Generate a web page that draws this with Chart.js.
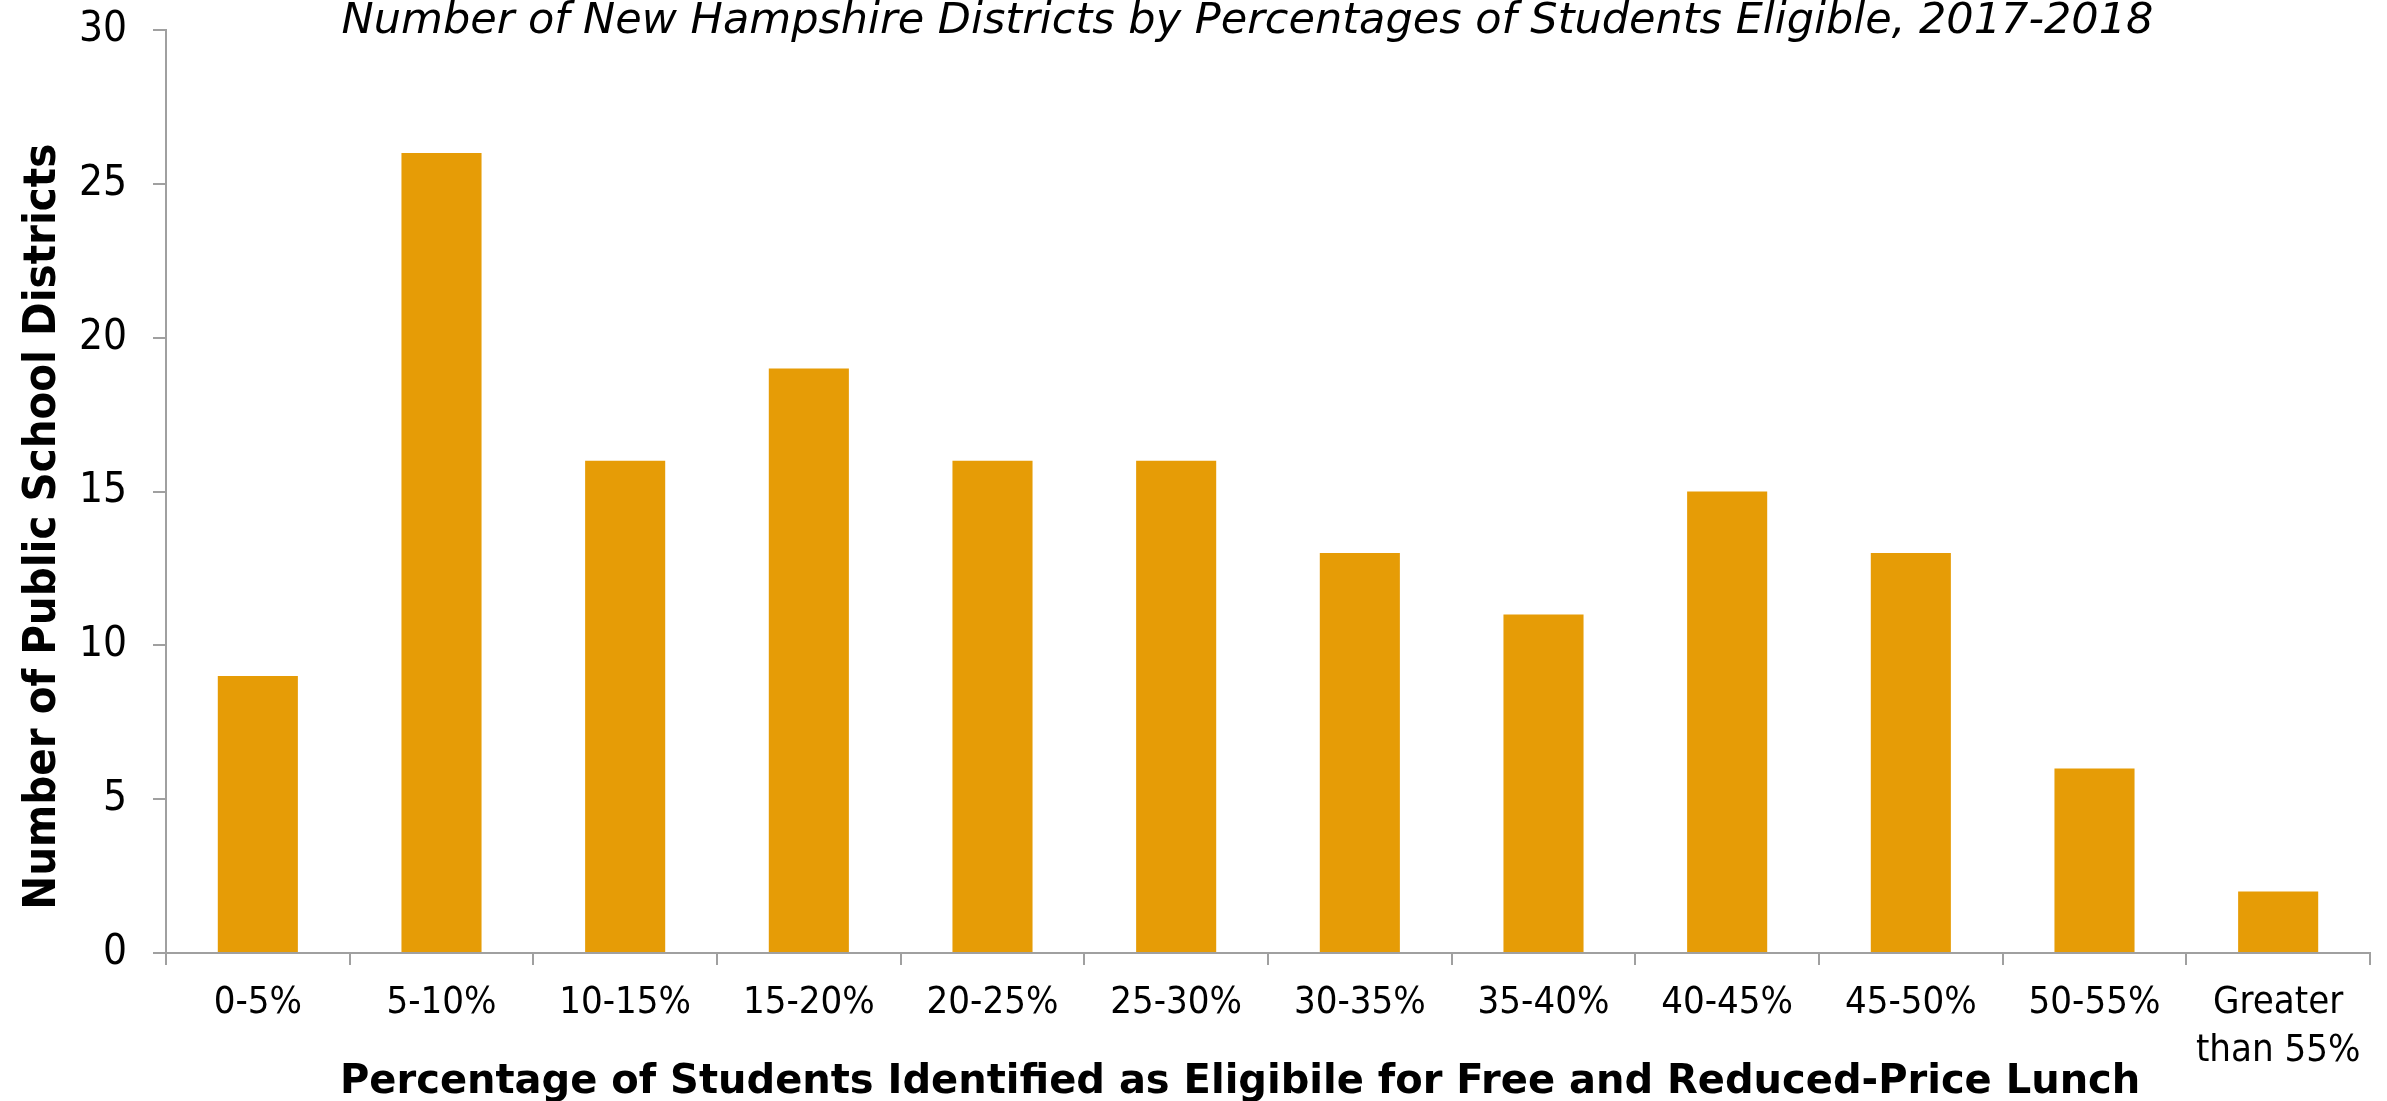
<!DOCTYPE html>
<html>
<head>
<meta charset="utf-8">
<script src="https://cdn.jsdelivr.net/npm/chart.js@4.4.1/dist/chart.umd.min.js"></script>
<style>
  html, body { margin: 0; padding: 0; background: #fff; }
  #chart { display: block; }
</style>
</head>
<body>
<canvas id="chart" width="2387" height="1101"></canvas>
<script>
const categories = ["0-5%", "5-10%", "10-15%", "15-20%", "20-25%", "25-30%", "30-35%", "35-40%", "40-45%", "45-50%", "50-55%", ["Greater", "than 55%"]];
const districts = [9, 26, 16, 19, 16, 16, 13, 11, 15, 13, 6, 2];
const yTicks = [0, 5, 10, 15, 20, 25, 30];

const FONT = "'DejaVu Sans Condensed', 'DejaVu Sans', sans-serif";
const WIDE = "'DejaVu Sans', sans-serif";
const AXIS_GREY = "#a0a0a0";

// the original centres its titles a bit off the plot centre; trailing spaces nudge them
const pad = n => " ".repeat(n);

const ctx = document.getElementById("chart").getContext("2d");

new Chart(ctx, {
  type: "bar",
  data: {
    labels: categories,
    datasets: [{
      data: districts,
      backgroundColor: "#e69c06",
      borderWidth: 0,
      categoryPercentage: 1,
      barPercentage: 0.436
    }]
  },
  options: {
    responsive: false,
    animation: false,
    devicePixelRatio: 1,
    layout: { padding: { left: 0, right: 17, top: 0, bottom: 0 } },
    plugins: {
      legend: { display: false },
      tooltip: { enabled: false },
      title: {
        display: true,
        fullSize: false,
        text: "Number of New Hampshire Districts by Percentages of Students Eligible, 2017-2018" + pad(3),
        color: "#000",
        font: { family: WIDE, size: 43, style: "italic", weight: "normal", lineHeight: 1 },
        padding: { top: 0, bottom: -13 }
      }
    },
    scales: {
      x: {
        afterFit: scale => { scale.height = 148; },
        grid: {
          offset: true,
          drawOnChartArea: false,
          drawTicks: true,
          tickLength: 12,
          color: AXIS_GREY,
          lineWidth: 2
        },
        border: { display: true, color: AXIS_GREY, width: 2 },
        ticks: {
          color: "#000",
          font: { family: FONT, size: 38, lineHeight: 1.24 },
          padding: 15,
          maxRotation: 0,
          autoSkip: false
        },
        title: {
          display: true,
          text: "Percentage of Students Identified as Eligibile for Free and Reduced-Price Lunch" + pad(4),
          color: "#000",
          font: { family: WIDE, size: 40, weight: "bold", lineHeight: 1 },
          padding: { top: 0, bottom: -2 }
        }
      },
      y: {
        min: 0,
        max: 30,
        afterFit: scale => { scale.width = 166; },
        afterBuildTicks: scale => { scale.ticks = yTicks.map(v => ({ value: v })); },
        grid: {
          drawOnChartArea: false,
          drawTicks: true,
          tickLength: 13,
          color: AXIS_GREY,
          lineWidth: 2
        },
        border: { display: true, color: AXIS_GREY, width: 2 },
        ticks: {
          color: "#000",
          // tiny lineHeight so the top label does not push the plot down
          font: { family: FONT, size: 42, lineHeight: 0.05 },
          padding: 26
        },
        title: {
          display: true,
          text: "Number of Public School Districts" + pad(5),
          color: "#000",
          font: { family: FONT, size: 45, weight: "bold", lineHeight: 1 },
          padding: { top: 21, bottom: 0 }
        }
      }
    }
  }
});
</script>
</body>
</html>
